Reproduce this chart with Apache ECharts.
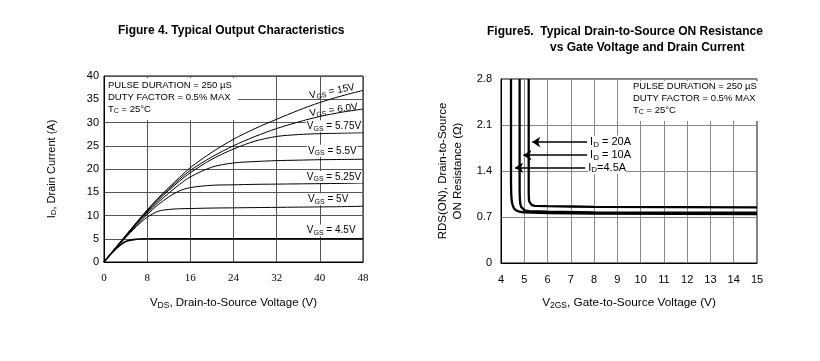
<!DOCTYPE html>
<html><head><meta charset="utf-8">
<script src="https://cdn.jsdelivr.net/npm/echarts@6/dist/echarts.min.js"></script>
<style>html,body{margin:0;padding:0;background:#fff}#c{width:820px;height:361px}</style>
</head><body><div id="c"></div>
<script>
// ---------- Figure 4 data (Output Characteristics) ----------
const vds = [0, 2, 4, 6, 8, 10, 12, 14, 16, 20, 24, 28, 32, 36, 40, 44, 48];
const id15V   = [0, 2.9, 5.7, 8.5, 11.2, 13.7, 16.0, 18.2, 20.3, 23.6, 26.4, 28.7, 30.7, 32.6, 34.3, 35.7, 36.9];
const id6V    = [0, 2.85, 5.6, 8.35, 11.0, 13.5, 15.7, 17.8, 19.7, 22.6, 25.0, 27.0, 28.7, 30.1, 31.3, 32.2, 32.9];
const id575V  = [0, 2.8, 5.6, 8.3, 10.8, 13.2, 15.4, 17.4, 19.2, 22.1, 24.3, 26.0, 27.0, 27.4, 27.6, 27.7, 27.8];
const id55V   = [0, 2.8, 5.5, 8.1, 10.5, 12.8, 14.8, 16.7, 18.3, 20.4, 21.3, 21.6, 21.8, 21.9, 22.0, 22.05, 22.1];
const id525V  = [0, 2.8, 5.4, 7.9, 10.2, 12.3, 14.0, 15.3, 16.0, 16.5, 16.6, 16.7, 16.75, 16.8, 16.85, 16.9, 17.0];
const id5V    = [0, 2.7, 5.2, 7.6, 9.6, 10.9, 11.3, 11.45, 11.5, 11.6, 11.65, 11.7, 11.75, 11.8, 11.85, 11.9, 12.0];
const id45V   = [0, 2.6, 4.4, 4.9, 5.0, 5.0, 5.0, 5.0, 5.0, 5.0, 5.0, 5.0, 5.0, 5.0, 5.0, 5.0, 5.0];
const vgsNames = ['15V', '6.0V', '5.75V', '5.5V', '5.25V', '5V', '4.5V'];
const leftXTicks = [0, 8, 16, 24, 32, 40, 48];
const leftYTicks = [0, 5, 10, 15, 20, 25, 30, 35, 40];

// ---------- Figure 5 data (RDS(ON) vs VGS) ----------
const vgsA45 = [4.43, 4.43, 4.44, 4.46, 4.50, 4.56, 4.65, 4.80, 5.0, 6, 8, 15];
const rdsA45 = [2.8, 1.20, 1.05, 0.95, 0.88, 0.83, 0.80, 0.78, 0.77, 0.76, 0.75, 0.745];
const vgsA10 = [4.80, 4.80, 4.81, 4.83, 4.87, 4.93, 5.02, 5.2, 6, 8, 15];
const rdsA10 = [2.8, 1.10, 0.98, 0.90, 0.85, 0.82, 0.80, 0.79, 0.78, 0.77, 0.765];
const vgsA20 = [5.19, 5.19, 5.20, 5.22, 5.26, 5.33, 5.45, 6, 7, 8, 15];
const rdsA20 = [2.8, 1.05, 0.97, 0.93, 0.90, 0.88, 0.87, 0.865, 0.86, 0.855, 0.845];
const idNames = ['20A', '10A', '4.5A'];
const rightXTicks = [4, 5, 6, 7, 8, 9, 10, 11, 12, 13, 14, 15];
const rightYTicks = [0, 0.7, 1.4, 2.1, 2.8];

// label anchors (annotation placement, data space)
const vgsLabelAnchor = [[37.9, 35.7, 11], [37.9, 31.9, 8], [37.4, 29.2, 0], [37.6, 23.9, 0], [37.4, 18.3, 0], [37.6, 13.5, 0], [37.4, 6.8, 0]];
const idArrow = [[7.7, 1.84, 5.34], [7.7, 1.64, 4.96], [7.62, 1.45, 4.60]];

const SANS = 'Liberation Sans, Arial, sans-serif';
const SERIF = 'Liberation Serif, Times New Roman, serif';
const pairs = (xs, ys) => xs.map((x, i) => [x, ys[i]]);

const leftCurves = [id15V, id6V, id575V, id55V, id525V, id5V, id45V];
const rightCurves = [[vgsA20, rdsA20], [vgsA10, rdsA10], [vgsA45, rdsA45]];

const vRich = {
  v: { fontSize: 10, fontFamily: SANS, color: '#000', lineHeight: 12 },
  s: { fontSize: 7, fontFamily: SANS, color: '#000', lineHeight: 7, verticalAlign: 'bottom' }
};

const series = [];
leftCurves.forEach((ys, k) => {
  const a = vgsLabelAnchor[k];
  series.push({
    type: 'line', xAxisIndex: 0, yAxisIndex: 0, data: pairs(vds, ys),
    showSymbol: false, smooth: 0.3, silent: true,
    lineStyle: { color: '#000', width: k === 6 ? 1.6 : 1 },
    markPoint: {
      symbol: 'circle', symbolSize: 0, silent: true,
      data: [{ coord: [a[0], a[1]],
        label: { show: true, position: 'inside', align: 'left', rotate: a[2],
          formatter: '{v|V}{s|GS}{v| = ' + vgsNames[k] + '}', rich: vRich,
          backgroundColor: a[2] ? 'transparent' : '#fff', padding: [0, 1, 0, 1] } }]
    }
  });
});

const iRich = {
  n: { fontSize: 11, fontFamily: SANS, color: '#000', lineHeight: 13 },
  s: { fontSize: 8, fontFamily: SANS, color: '#000', lineHeight: 8, verticalAlign: 'bottom' }
};
rightCurves.forEach((c, k) => {
  const a = idArrow[k];
  const txt = k === 2 ? '{n|I}{s|D}{n|=' + idNames[k] + '}' : '{n|I}{s|D}{n| = ' + idNames[k] + '}';
  series.push({
    type: 'line', xAxisIndex: 1, yAxisIndex: 1, data: pairs(c[0], c[1]),
    showSymbol: false, silent: true,
    lineStyle: { color: '#000', width: 2.3 },
    markLine: {
      silent: true, symbol: ['none', 'arrow'], symbolSize: 8, animation: false,
      lineStyle: { color: '#000', width: 1.6, type: 'solid' },
      label: { show: true, position: 'start', formatter: txt, rich: iRich, backgroundColor: '#fff', distance: 3 },
      data: [[{ coord: [a[0], a[1]] }, { coord: [a[2], a[1]] }]]
    }
  });
});

const boxRich = {
  t: { fontSize: 9.5, fontWeight: 'normal', fontFamily: SANS, color: '#000', lineHeight: 12 },
  s: { fontSize: 7, fontWeight: 'normal', fontFamily: SANS, color: '#000', lineHeight: 7, verticalAlign: 'bottom' }
};
const boxText = '{t|PULSE DURATION = 250 µS}\n{t|DUTY FACTOR = 0.5% MAX}\n{t|T}{s|C}{t| = 25°C}';

const option = {
  animation: false,
  backgroundColor: '#fff',
  title: [
    { text: 'Figure 4. Typical Output Characteristics', left: 118, top: 25, padding: 0,
      textStyle: { fontSize: 12, fontWeight: 'bold', fontFamily: SANS, color: '#000' } },
    { text: 'Figure5.  Typical Drain-to-Source ON Resistance', left: 487, top: 26, padding: 0,
      textStyle: { fontSize: 12, fontWeight: 'bold', fontFamily: SANS, color: '#000' } },
    { text: 'vs Gate Voltage and Drain Current', left: 550, top: 42, padding: 0,
      textStyle: { fontSize: 12, fontWeight: 'bold', fontFamily: SANS, color: '#000' } },
    { text: boxText, left: 105, top: 77, padding: [2, 6, 5, 3], backgroundColor: '#fff',
      textStyle: { fontWeight: 'normal', rich: boxRich } },
    { text: boxText, left: 629, top: 80, padding: [0, 3, 5, 4], backgroundColor: '#fff',
      textStyle: { fontWeight: 'normal', rich: boxRich } }
  ],
  grid: [
    { left: 104, top: 76, width: 259, height: 186, show: true, borderColor: '#000', borderWidth: 1, backgroundColor: 'transparent' },
    { left: 501, top: 79, width: 256, height: 184, show: true, borderColor: '#000', borderWidth: 1, backgroundColor: 'transparent' }
  ],
  xAxis: [
    { gridIndex: 0, type: 'value', min: leftXTicks[0], max: leftXTicks[leftXTicks.length - 1], interval: 8,
      axisLine: { lineStyle: { color: '#000' } }, axisTick: { show: false },
      axisLabel: { margin: 11, fontFamily: SERIF, fontSize: 11, color: '#000' },
      splitLine: { show: true, lineStyle: { color: '#555', width: 1 } },
      name: '{n|V}{s|DS}{n|, Drain-to-Source Voltage (V)}', nameLocation: 'middle', nameGap: 34,
      nameTextStyle: { rich: {
        n: { fontSize: 11.5, fontFamily: SANS, color: '#000', lineHeight: 14 },
        s: { fontSize: 8.5, fontFamily: SANS, color: '#000', lineHeight: 9, verticalAlign: 'bottom' } } } },
    { gridIndex: 1, type: 'value', min: rightXTicks[0], max: rightXTicks[rightXTicks.length - 1], interval: 1,
      axisLine: { lineStyle: { color: '#000' } }, axisTick: { show: false },
      axisLabel: { margin: 11, fontFamily: SANS, fontSize: 11, color: '#000' },
      splitLine: { show: true, lineStyle: { color: '#888', width: 1 } },
      name: '{n|V}{s|2GS}{n|, Gate-to-Source Voltage (V)}', nameLocation: 'middle', nameGap: 33,
      nameTextStyle: { rich: {
        n: { fontSize: 11.8, fontFamily: SANS, color: '#000', lineHeight: 14 },
        s: { fontSize: 8.5, fontFamily: SANS, color: '#000', lineHeight: 9, verticalAlign: 'bottom' } } } }
  ],
  yAxis: [
    { gridIndex: 0, type: 'value', min: leftYTicks[0], max: leftYTicks[leftYTicks.length - 1], interval: 5,
      axisLine: { show: true, lineStyle: { color: '#000' } }, axisTick: { show: false },
      axisLabel: { margin: 5, fontFamily: SANS, fontSize: 11, color: '#000' },
      splitLine: { show: true, lineStyle: { color: '#555', width: 1 } },
      name: '{n|I}{s|D}{n|, Drain Current (A)}', nameLocation: 'middle', nameGap: 46,
      nameTextStyle: { rich: {
        n: { fontSize: 11, fontFamily: SANS, color: '#000', lineHeight: 13 },
        s: { fontSize: 8, fontFamily: SANS, color: '#000', lineHeight: 8, verticalAlign: 'bottom' } } } },
    { gridIndex: 1, type: 'value', min: rightYTicks[0], max: rightYTicks[rightYTicks.length - 1], interval: 0.7,
      axisLine: { show: true, lineStyle: { color: '#000' } }, axisTick: { show: false },
      axisLabel: { margin: 9, fontFamily: SANS, fontSize: 11, color: '#000',
        formatter: v => (Math.abs(v) < 1e-9 ? '0' : v.toFixed(1)) },
      splitLine: { show: true, lineStyle: { color: '#888', width: 1 } },
      name: 'RDS(ON), Drain-to-Source\nON Resistance (Ω)', nameLocation: 'middle', nameGap: 36,
      nameTextStyle: { fontSize: 11.5, fontFamily: SANS, color: '#000', lineHeight: 15 } }
  ],
  series: series
};

const chart = echarts.init(document.getElementById('c'), null, { renderer: 'canvas' });
chart.setOption(option);
</script>
</body></html>
